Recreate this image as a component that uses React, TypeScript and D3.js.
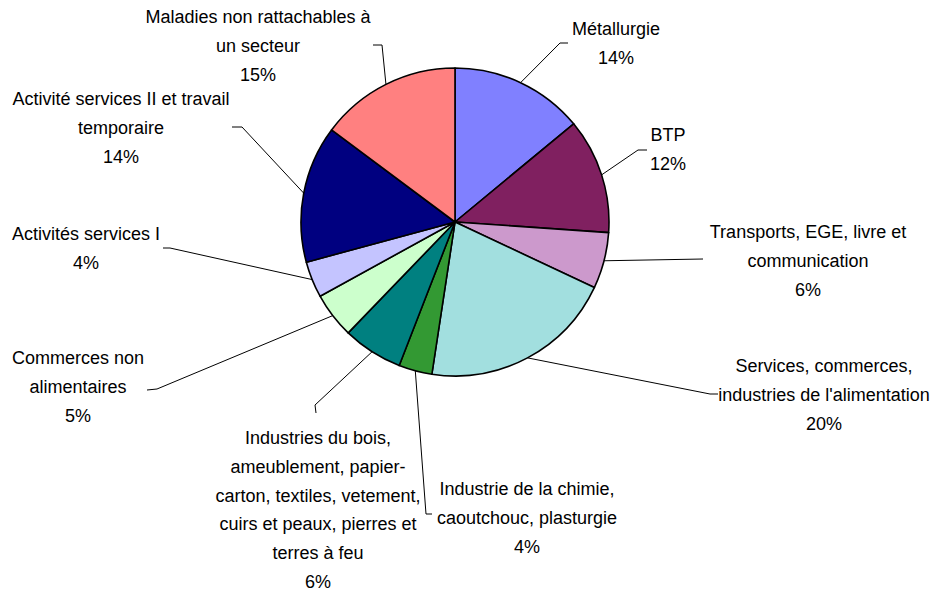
import * as d3 from "d3";

// secteurs, dans le sens horaire depuis midi
const sectors = [
  "Métallurgie",
  "BTP",
  "Transports, EGE, livre et communication",
  "Services, commerces, industries de l'alimentation",
  "Industrie de la chimie, caoutchouc, plasturgie",
  "Industries du bois, ameublement, papier-carton, textiles, vetement, cuirs et peaux, pierres et terres à feu",
  "Commerces non alimentaires",
  "Activités services I",
  "Activité services II et travail temporaire",
  "Maladies non rattachables à un secteur",
];
const shares = [14.0, 12.1, 5.9, 20.4, 3.5, 6.3, 4.8, 3.8, 14.4, 14.8];
const labelLines = [
  ["Métallurgie"],
  ["BTP"],
  ["Transports, EGE, livre et", "communication"],
  ["Services, commerces,", "industries de l'alimentation"],
  ["Industrie de la chimie,", "caoutchouc, plasturgie"],
  ["Industries du bois,", "ameublement, papier-", "carton, textiles, vetement,", "cuirs et peaux, pierres et", "terres à feu"],
  ["Commerces non", "alimentaires"],
  ["Activités services I"],
  ["Activité services II et travail", "temporaire"],
  ["Maladies non rattachables à", "un secteur"],
];

const colors = ["#8080FF", "#802060", "#CC99CC", "#A2DFDF", "#339933", "#008080", "#CCFFCC", "#C4C4FF", "#000080", "#FF8080"];

// placement des étiquettes : centre du texte, première ligne de base, coude et bout du trait
const labelLayout = [
  { x: 616, y: 35, elbow: [560, 43], end: [568, 43] },
  { x: 668, y: 141, elbow: [638, 150], end: [647, 150] },
  { x: 808, y: 238, elbow: [703, 259], end: [703, 259] },
  { x: 824, y: 372, elbow: [710, 394], end: [718, 394] },
  { x: 527, y: 495, elbow: [426, 514], end: [432, 514] },
  { x: 318, y: 444, elbow: [315, 405], end: [316, 413] },
  { x: 78, y: 364, elbow: [157, 389], end: [147, 390] },
  { x: 86, y: 240, elbow: [170, 248], end: [163, 248] },
  { x: 121, y: 105, elbow: [242, 127], end: [232, 127] },
  { x: 258, y: 23, elbow: [382, 45], end: [373, 45] },
];

const W = 931;
const H = 591;
const cx = 455;
const cy = 222;
const R = 154;
const lineH = 28.8;

export default function App() {
  const pie = d3.pie<number>().sort(null).value((d) => d)(shares);
  const arc = d3.arc<d3.PieArcDatum<number>>().innerRadius(0).outerRadius(R);
  const total = d3.sum(shares);

  return (
    <svg
      width={W}
      height={H}
      style={{ position: "absolute", left: 0, top: 0, background: "#fff" }}
      fontFamily="'Liberation Sans', Arial, sans-serif"
      fontSize={18}
    >
      <g transform={`translate(${cx},${cy})`}>
        {pie.map((p, i) => (
          <path key={sectors[i]} d={arc(p) || ""} fill={colors[i]} stroke="#000" strokeWidth={1.6} strokeLinejoin="round" />
        ))}
      </g>
      {pie.map((p, i) => {
        const mid = (p.startAngle + p.endAngle) / 2;
        const sx = cx + R * Math.sin(mid);
        const sy = cy - R * Math.cos(mid);
        const L = labelLayout[i];
        const pct = Math.round((shares[i] / total) * 100) + "%";
        const lines = [...labelLines[i], pct];
        return (
          <g key={"lbl" + i}>
            <polyline
              points={`${sx},${sy} ${L.elbow[0]},${L.elbow[1]} ${L.end[0]},${L.end[1]}`}
              fill="none"
              stroke="#000"
              strokeWidth={1}
            />
            <text textAnchor="middle" fill="#000">
              {lines.map((t, j) => (
                <tspan key={j} x={L.x} y={L.y + j * lineH}>
                  {t}
                </tspan>
              ))}
            </text>
          </g>
        );
      })}
    </svg>
  );
}
